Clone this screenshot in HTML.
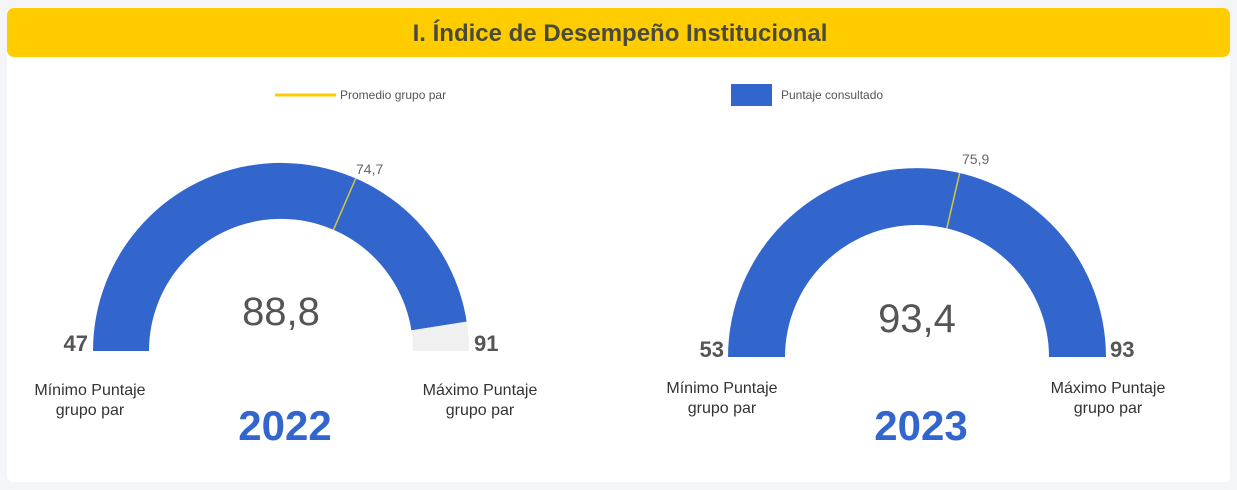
<!DOCTYPE html>
<html><head><meta charset="utf-8"><style>
body{margin:0;background:#f3f5f9;width:1237px;height:490px;overflow:hidden}
svg{display:block}
text{font-family:"Liberation Sans",sans-serif}
</style></head><body>
<svg width="1237" height="490" viewBox="0 0 1237 490">
<rect x="0" y="0" width="1237" height="490" fill="#f3f5f9"/>
<rect x="7" y="8" width="1223" height="474" rx="6" fill="#ffffff"/>
<rect x="7" y="8" width="1223" height="49" rx="7" fill="#ffcc00"/>
<text x="620" y="41" text-anchor="middle" font-size="24" font-weight="bold" fill="#4a4a3a">I. Índice de Desempeño Institucional</text>
<line x1="275" y1="95" x2="336" y2="95" stroke="#ffcc00" stroke-width="3"/>
<text x="340" y="99" font-size="12" fill="#555">Promedio grupo par</text>
<rect x="731" y="84" width="41" height="22" fill="#3366cc"/>
<text x="781" y="99" font-size="12" fill="#555">Puntaje consultado</text>
<!-- gauge 1 -->
<path d="M93,351 A188,188 0 0 1 466.7,321.6 L411.4,330.4 A132,132 0 0 0 149,351 Z" fill="#3366cc"/>
<path d="M466.7,321.6 A188,188 0 0 1 469,351 L413,351 A132,132 0 0 0 411.4,330.4 Z" fill="#f0f0f0"/>
<line x1="355.7" y1="178.5" x2="333.4" y2="229.9" stroke="#d4c840" stroke-width="1.5"/>
<text x="356" y="174" font-size="14" fill="#666">74,7</text>
<text x="281" y="325" text-anchor="middle" font-size="40" fill="#555">88,8</text>
<text x="88" y="351" text-anchor="end" font-size="22" font-weight="bold" fill="#555">47</text>
<text x="474" y="351" font-size="22" font-weight="bold" fill="#555">91</text>
<text x="90" y="395" text-anchor="middle" font-size="16" fill="#333">Mínimo Puntaje</text>
<text x="90" y="415" text-anchor="middle" font-size="16" fill="#333">grupo par</text>
<text x="480" y="395" text-anchor="middle" font-size="16" fill="#333">Máximo Puntaje</text>
<text x="480" y="415" text-anchor="middle" font-size="16" fill="#333">grupo par</text>
<text x="285" y="440" text-anchor="middle" font-size="42" font-weight="bold" fill="#3366cc">2022</text>
<!-- gauge 2 -->
<path d="M728,357 A189,189 0 0 1 1106,357 L1049,357 A132,132 0 0 0 785,357 Z" fill="#3366cc"/>
<line x1="959.7" y1="172.9" x2="946.8" y2="228.4" stroke="#d4c840" stroke-width="1.5"/>
<text x="962" y="164" font-size="14" fill="#666">75,9</text>
<text x="917" y="332" text-anchor="middle" font-size="40" fill="#555">93,4</text>
<text x="724" y="357" text-anchor="end" font-size="22" font-weight="bold" fill="#555">53</text>
<text x="1110" y="357" font-size="22" font-weight="bold" fill="#555">93</text>
<text x="722" y="393" text-anchor="middle" font-size="16" fill="#333">Mínimo Puntaje</text>
<text x="722" y="413" text-anchor="middle" font-size="16" fill="#333">grupo par</text>
<text x="1108" y="393" text-anchor="middle" font-size="16" fill="#333">Máximo Puntaje</text>
<text x="1108" y="413" text-anchor="middle" font-size="16" fill="#333">grupo par</text>
<text x="921" y="440" text-anchor="middle" font-size="42" font-weight="bold" fill="#3366cc">2023</text>
</svg>
</body></html>
